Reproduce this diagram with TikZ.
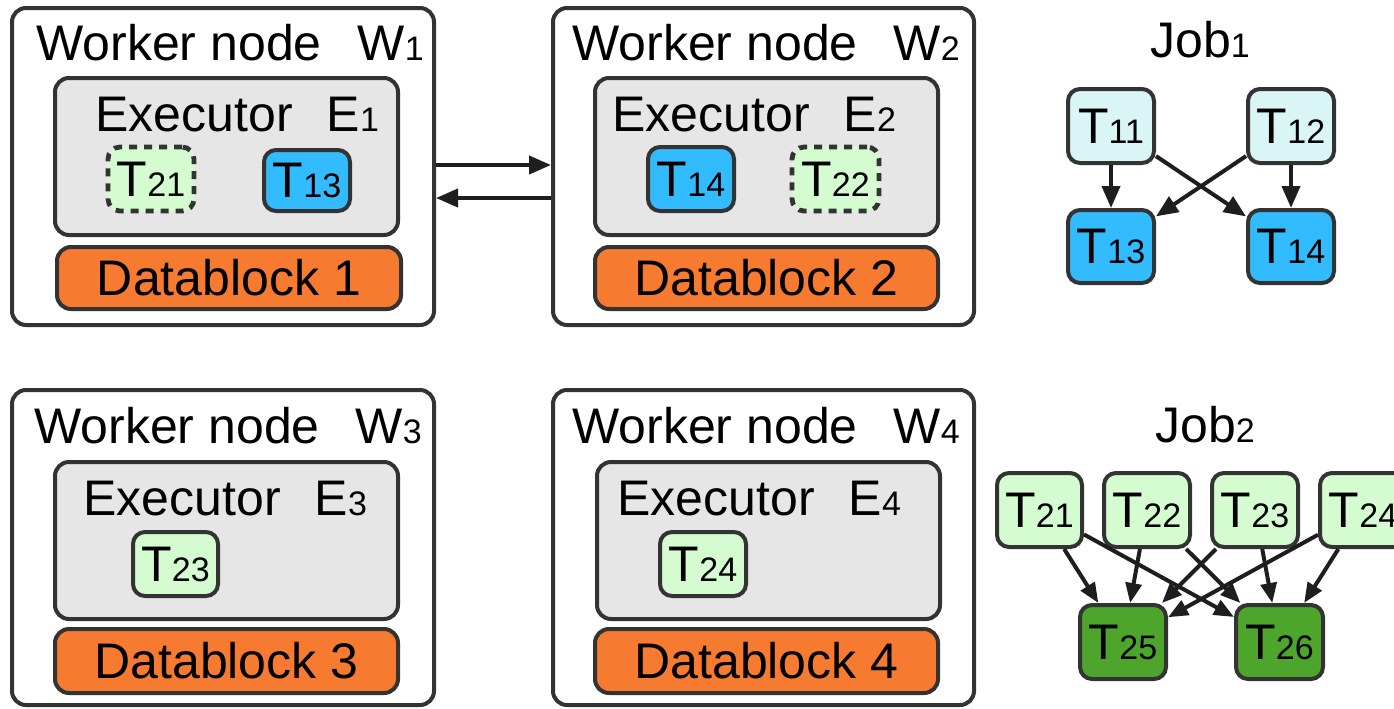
\documentclass[tikz,border=0pt]{standalone}
\usepackage{fontspec}
\setmainfont{Liberation Sans}
\usetikzlibrary{fit,arrows.meta}
\definecolor{bd}{HTML}{333333}
\definecolor{ln}{HTML}{1E1E1E}
\definecolor{grayfill}{HTML}{E6E6E6}
\definecolor{orangefill}{HTML}{F67A30}
\definecolor{bluefill}{HTML}{33BBFF}
\definecolor{cyanfill}{HTML}{D9F5F5}
\definecolor{lgreen}{HTML}{D4FCD0}
\definecolor{dgreen}{HTML}{4EA52B}
\newcommand\sm[1]{{\fontsize{17}{20}\selectfont #1}}
\tikzset{
  every node/.style={font=\fontsize{25}{30}\selectfont, inner sep=0pt},
  outerbox/.style={draw=bd, line width=2pt, rounded corners=7pt, fill=white},
  execbox/.style={draw=bd, line width=2pt, rounded corners=7pt, fill=grayfill},
  datablk/.style={draw=bd, line width=2pt, rounded corners=7pt, fill=orangefill},
  taskbox/.style={draw=bd, line width=2pt, rounded corners=6pt},
  blue task/.style={taskbox, fill=bluefill},
  cyan task/.style={taskbox, fill=cyanfill},
  lgreen task/.style={taskbox, fill=lgreen},
  dgreen task/.style={taskbox, fill=dgreen},
  moved task/.style={taskbox, fill=lgreen, line width=2.4pt, dash pattern=on 4pt off 3.5pt},
  title/.style={anchor=base west},
  arr/.style={draw=ln, line width=2pt, -{Triangle[length=11pt,width=9pt]}},
  darr/.style={draw=ln, line width=2pt, -{Triangle[length=10pt,width=8pt]}}
}
\begin{document}
\begin{tikzpicture}[x=0.5pt,y=-0.5pt]
\clip (0,0) rectangle (1394,708);
\fill[white] (0,0) rectangle (1394,708);

% ---- Worker 1
\node[outerbox, fit={(12,8)(434,325)}] (W1) {};
\node[title] (W1t) at (36,60) {Worker node\hspace{18pt}W\sm{1}};
\node[execbox, fit={(55,78)(398,235)}] (E1) {};
\node[title] (E1t) at (95,131) {Executor\hspace{17pt}E\sm{1}};
\node[moved task, fit={(108,147)(194,211)}] (w1t21) {};
\node (w1t21l) at (w1t21.center) {T\sm{21}};
\node[blue task, fit={(264,150)(350,211)}] (w1t13) {};
\node (w1t13l) at (w1t13.center) {T\sm{13}};
\node[datablk, fit={(57,247)(401,309)}] (D1) {};
\node (D1l) at (D1.center) {Datablock 1};

% ---- Worker 2
\node[outerbox, fit={(553,8)(974,325)}] (W2) {};
\node[title] (W2t) at (572,60) {Worker node\hspace{18pt}W\sm{2}};
\node[execbox, fit={(595,78)(938,235)}] (E2) {};
\node[title] (E2t) at (612,131) {Executor\hspace{17pt}E\sm{2}};
\node[blue task, fit={(648,147)(734,211)}] (w2t14) {};
\node (w2t14l) at (w2t14.center) {T\sm{14}};
\node[moved task, fit={(792,147)(879,211)}] (w2t22) {};
\node (w2t22l) at (w2t22.center) {T\sm{22}};
\node[datablk, fit={(595,247)(938,309)}] (D2) {};
\node (D2l) at (D2.center) {Datablock 2};

% ---- Worker 3
\node[outerbox, fit={(12,390)(434,705)}] (W3) {};
\node[title] (W3t) at (34,443) {Worker node\hspace{18pt}W\sm{3}};
\node[execbox, fit={(55,462)(398,619)}] (E3) {};
\node[title] (E3t) at (83,515) {Executor\hspace{17pt}E\sm{3}};
\node[lgreen task, fit={(133,532)(218,596)}] (w3t23) {};
\node (w3t23l) at (w3t23.center) {T\sm{23}};
\node[datablk, fit={(55,629)(398,693)}] (D3) {};
\node (D3l) at (D3.center) {Datablock 3};

% ---- Worker 4
\node[outerbox, fit={(553,390)(974,705)}] (W4) {};
\node[title] (W4t) at (572,443) {Worker node\hspace{18pt}W\sm{4}};
\node[execbox, fit={(597,462)(940,619)}] (E4) {};
\node[title] (E4t) at (617,515) {Executor\hspace{17pt}E\sm{4}};
\node[lgreen task, fit={(660,532)(746,596)}] (w4t24) {};
\node (w4t24l) at (w4t24.center) {T\sm{24}};
\node[datablk, fit={(595,629)(938,693)}] (D4) {};
\node (D4l) at (D4.center) {Datablock 4};

% ---- arrows between W1 and W2
\coordinate (yA) at (0,165);
\coordinate (yB) at (0,198);
\draw[arr] (W1.east |- yA) -- (W2.west |- yA);
\draw[arr] (W2.west |- yB) -- (W1.east |- yB);

% ---- Job 1
\node[anchor=base] (J1) at (1200,57) {Job\sm{1}};
\node[cyan task, fit={(1068,89)(1154,163)}] (T11) {};
\node (T11l) at (T11.center) {T\sm{11}};
\node[cyan task, fit={(1248,89)(1334,163)}] (T12) {};
\node (T12l) at (T12.center) {T\sm{12}};
\node[blue task, fit={(1068,210)(1154,283)}] (T13) {};
\node (T13l) at (T13.center) {T\sm{13}};
\node[blue task, fit={(1248,210)(1334,283)}] (T14) {};
\node (T14l) at (T14.center) {T\sm{14}};
\draw[arr] (T11) -- (T13);
\draw[arr] (T12) -- (T14);
\draw[arr] (T11) -- (T14);
\draw[arr] (T12) -- (T13);

% ---- Job 2
\node[anchor=base] (J2) at (1205,442) {Job\sm{2}};
\node[lgreen task, fit={(997,473)(1082,547)}] (T21) {};
\node (T21l) at (T21.center) {T\sm{21}};
\node[lgreen task, fit={(1104,473)(1190,547)}] (T22) {};
\node (T22l) at (T22.center) {T\sm{22}};
\node[lgreen task, fit={(1212,473)(1298,547)}] (T23) {};
\node (T23l) at (T23.center) {T\sm{23}};
\node[lgreen task, fit={(1320,473)(1406,547)}] (T24) {};
\node (T24l) at (T24.center) {T\sm{24}};
\node[dgreen task, fit={(1080,605)(1166,679)}] (T25) {};
\node (T25l) at (T25.center) {T\sm{25}};
\node[dgreen task, fit={(1236,605)(1323,679)}] (T26) {};
\node (T26l) at (T26.center) {T\sm{26}};
\foreach \s in {T21,T22,T23,T24}{
  \draw[darr] (\s) -- (T25);
  \draw[darr] (\s) -- (T26);
}
\end{tikzpicture}
\end{document}
